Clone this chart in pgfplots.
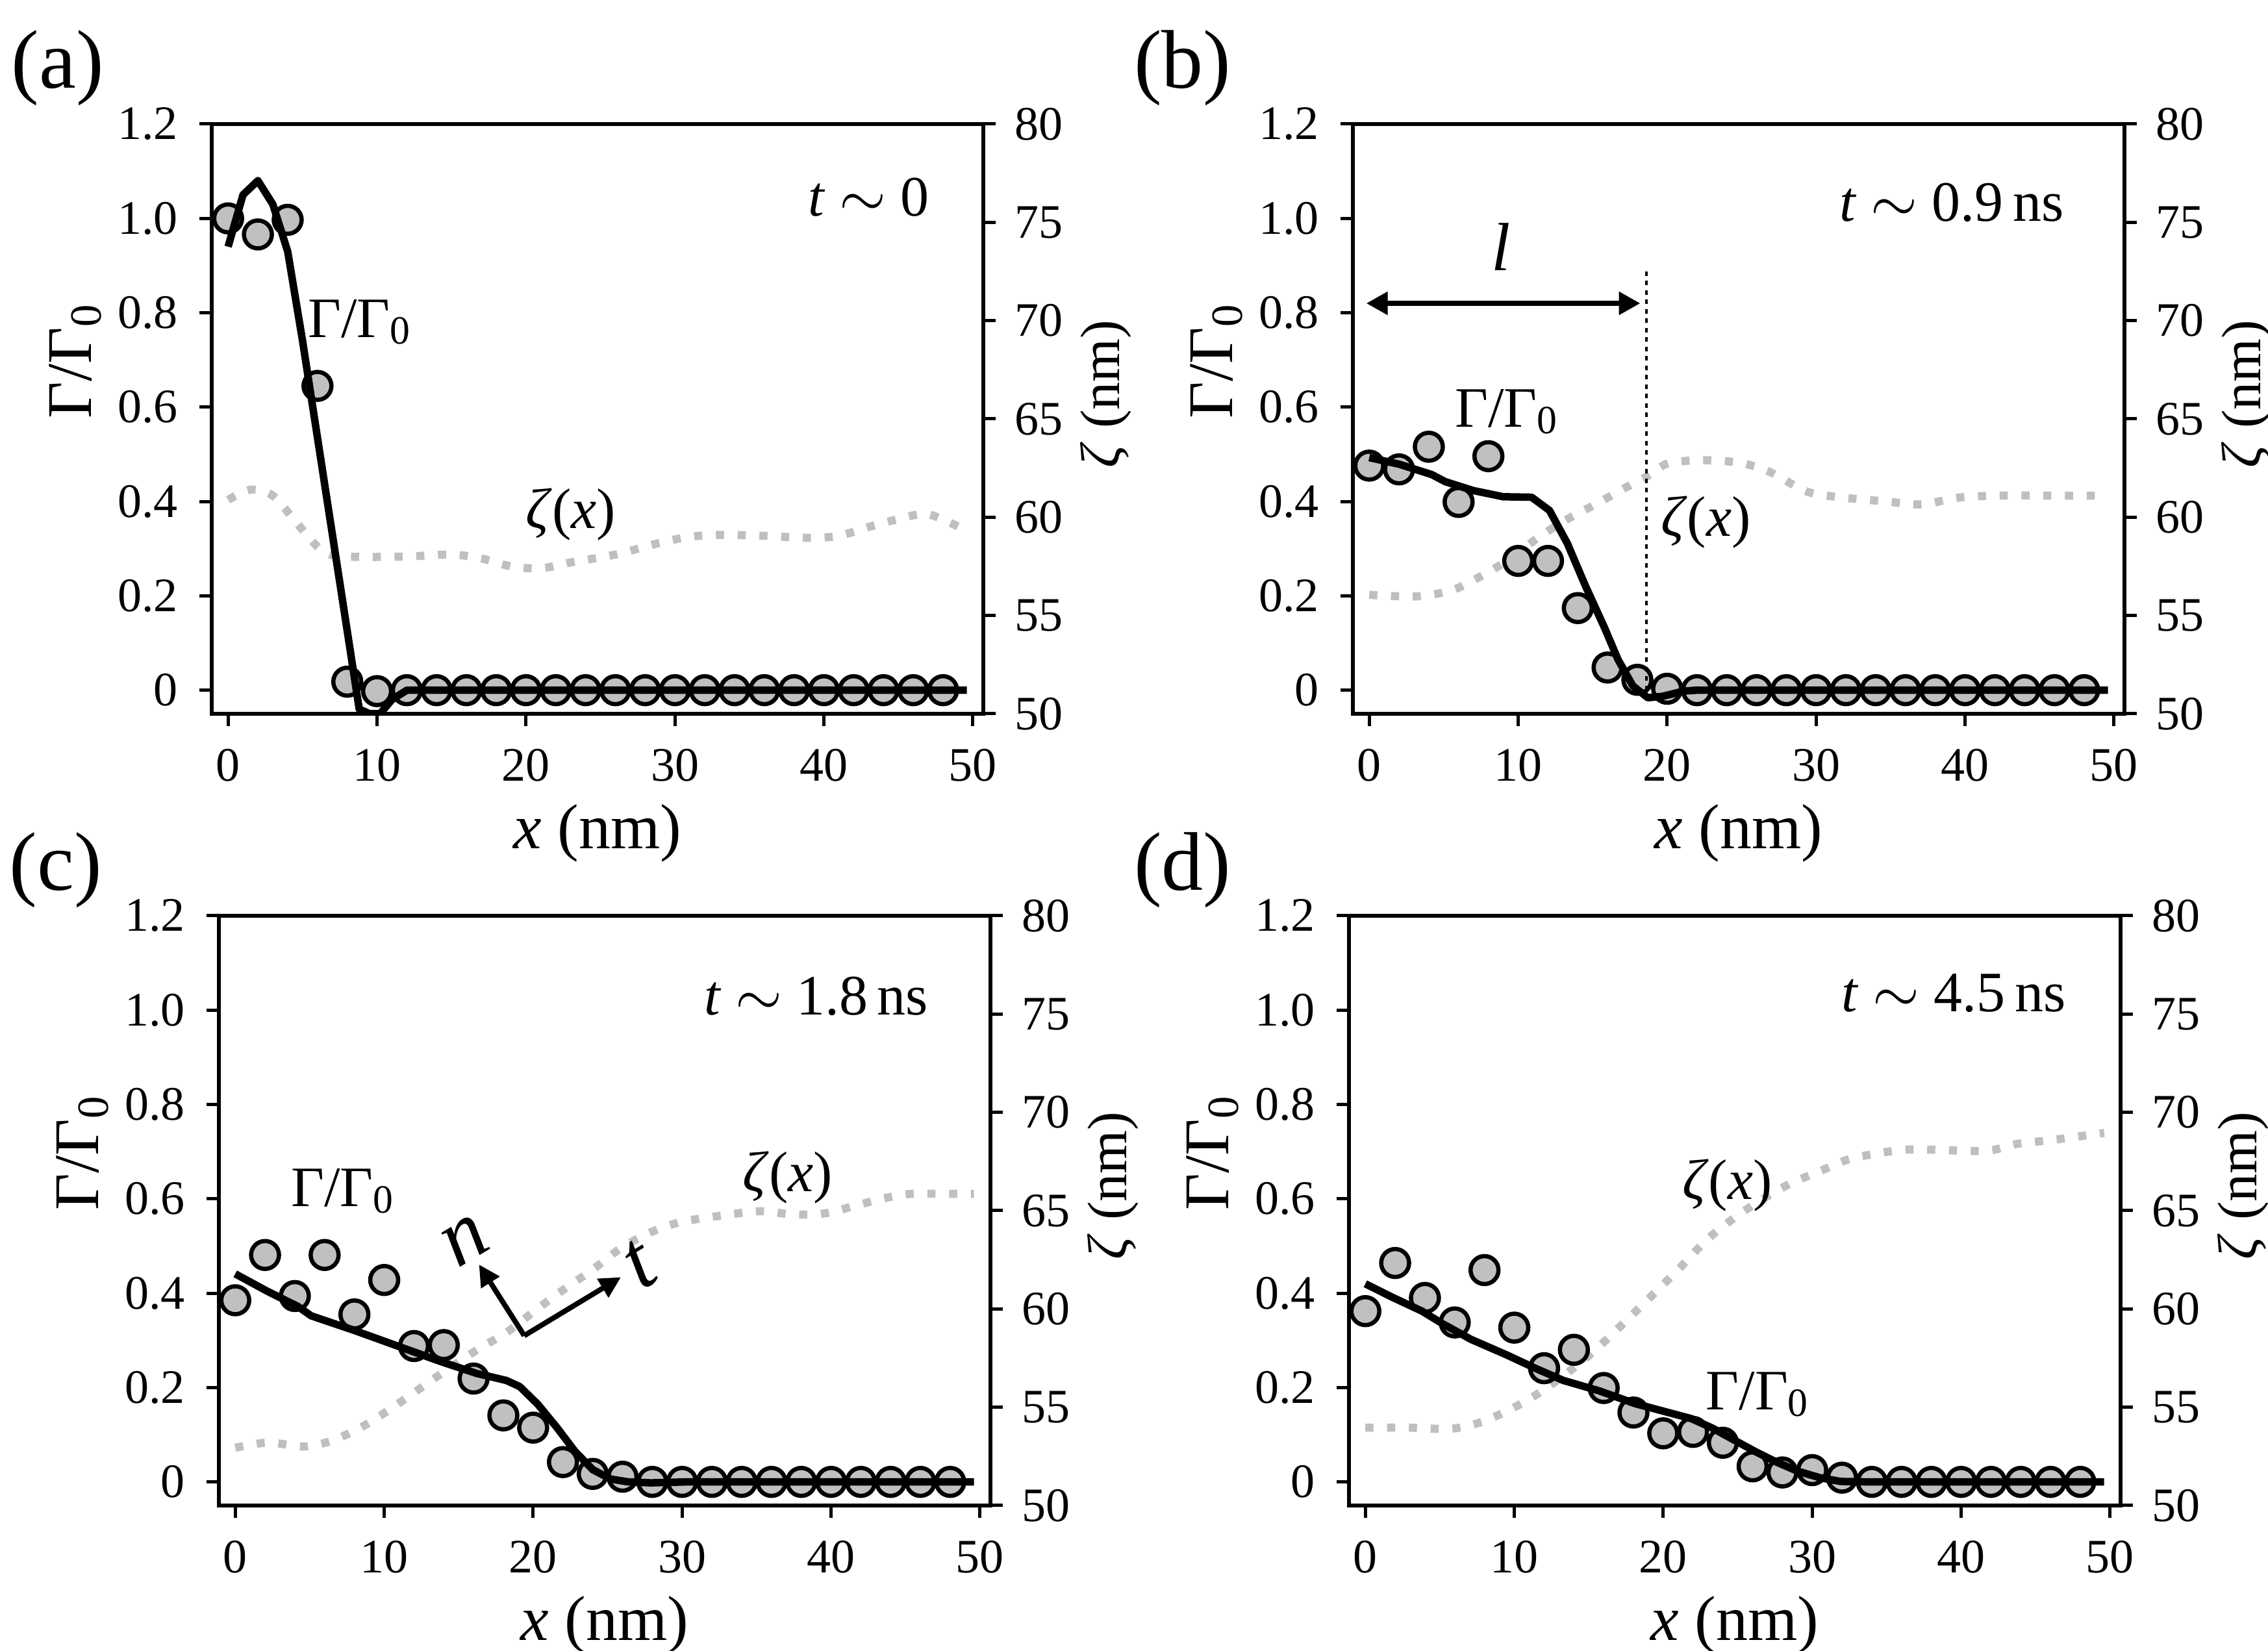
\documentclass[border=0pt]{standalone}
\usepackage{fontspec}
\setmainfont{Liberation Serif}
\usepackage{pgfplots}
\pgfplotsset{compat=1.18}
\usetikzlibrary{arrows.meta,calc}

\definecolor{mkgray}{HTML}{C0C0C0}
\definecolor{zgray}{HTML}{BFBFBF}

\newcommand{\tfont}{\fontsize{7.4}{8}\selectfont}
\newcommand{\lfont}{\fontsize{9.8}{11}\selectfont}
\newcommand{\rfont}{\fontsize{8.6}{10}\selectfont}
\newcommand{\afont}{\fontsize{8.8}{10}\selectfont}
\newcommand{\pfont}{\fontsize{12.8}{14}\selectfont}
\newcommand{\GG}{Γ/Γ\textsubscript{0}}
\newcommand{\zx}{\textit{ζ}(\textit{x})}

\pgfplotsset{
  panel/.style={scale only axis, width=118.8pt, height=90.8pt, xmin=-1.1, xmax=50.7,
    axis line style={line width=0.6pt}, every tick/.style={black, line width=0.5pt},
    major tick length=1.9pt, tick align=outside,
    tick label style={font=\tfont, inner sep=0pt},
    /pgf/number format/assume math mode=true, clip mode=individual},
  gamax/.style={panel, ymin=-0.05, ymax=1.2, xtick={0,10,...,50},
    ytick={0,0.2,0.4,0.6,0.8,1.0,1.2}, yticklabels={0,0.2,0.4,0.6,0.8,1.0,1.2},
    xtick pos=left, ytick pos=left,
    xticklabel style={anchor=north, yshift=-3.3pt},
    yticklabel style={anchor=east, xshift=-3.1pt}},
  zetaax/.style={panel, ymin=50, ymax=80, ytick={50,55,...,80},
    axis x line=none, axis y line*=right,
    yticklabel style={anchor=west, xshift=2.8pt}},
  mk/.style={only marks, mark=*, mark size=2.15pt,
    mark options={fill=mkgray, draw=black, line width=0.65pt}},
  gline/.style={black, line width=1.15pt, line join=round, no marks},
  zline/.style={zgray, line width=1.25pt, dash pattern=on 1.25pt off 2.1pt, no marks, smooth},
}

\newcommand{\axlabels}[1]{%
  \node[rotate=90, font=\lfont] at ($(#1.south west)!0.60!(#1.north west)+(-21pt,0)$) {\GG};
  \node[rotate=90, font=\rfont] at ($(#1.south east)!0.542!(#1.north east)+(18.9pt,0)$) {\textit{ζ} (nm)};
  \node[font=\lfont] at ($(#1.south)+(0,-18.4pt)$) {\textit{x} (nm)};
}

\begin{document}
\begin{tikzpicture}

% ---------------- (a) ----------------
\begin{axis}[zetaax, at={(32.6pt,144.3pt)}, anchor=south west]
\addplot[zline] coordinates {(0,60.88)(1.5,61.4)(3,61.1)(4.5,59.8)(6,58.5)(7,58.06)(9,57.98)(12,58.0)(15,58.1)(17,57.9)(19,57.5)(21,57.4)(23,57.7)(26,58.1)(29,58.7)(31,59.0)(33,59.1)(36,59.05)(39,58.95)(41,59.05)(43,59.5)(45,59.9)(47,60.15)(49.6,59.3)};
\end{axis}
\begin{axis}[gamax, name=ga, at={(32.6pt,144.3pt)}, anchor=south west]
\addplot[mk] coordinates {(0,1.0)(2,0.966)(4,0.997)(6,0.645)(8,0.018)(10,-0.002)(12,0)(14,0)(16,0)(18,0)(20,0)(22,0)(24,0)(26,0)(28,0)(30,0)(32,0)(34,0)(36,0)(38,0)(40,0)(42,0)(44,0)(46,0)(48,0)};
\addplot[gline] coordinates {(0,0.94)(1,1.05)(2,1.08)(3,1.03)(4,0.93)(5,0.74)(6,0.535)(7,0.33)(8,0.125)(8.8,-0.04)(9.5,-0.05)(10.2,-0.05)(11,-0.02)(12,0)(49.6,0)};
\node[font=\afont] at (axis cs:43,1.045) {\textit{t} $\sim$ 0};
\node[font=\afont] at (axis cs:8.9,0.78) {\GG};
\node[font=\afont] at (axis cs:23,0.373) {\zx};
\end{axis}
\axlabels{ga}

% ---------------- (b) ----------------
\begin{axis}[zetaax, at={(208.3pt,144.3pt)}, anchor=south west]
\addplot[zline] coordinates {(0,56.05)(3.2,55.97)(5.6,56.3)(7.5,57.0)(9.5,57.9)(11.4,59.0)(13.3,59.9)(15.3,60.7)(17.2,61.5)(18.7,62.1)(20.1,62.75)(22.6,62.9)(25,62.75)(26.9,62.3)(29.4,61.3)(31.8,61.0)(34.7,60.8)(37.1,60.65)(39.6,61.0)(42.5,61.1)(45.4,61.1)(49.6,61.1)};
\end{axis}
\begin{axis}[gamax, name=gb, at={(208.3pt,144.3pt)}, anchor=south west]
\addplot[mk] coordinates {(0,0.476)(2,0.468)(4,0.516)(6,0.399)(8,0.496)(10,0.274)(12,0.274)(14,0.174)(16,0.048)(18,0.022)(20,0.003)(22,0)(24,0)(26,0)(28,0)(30,0)(32,0)(34,0)(36,0)(38,0)(40,0)(42,0)(44,0)(46,0)(48,0)};
\addplot[gline] coordinates {(0,0.493)(2,0.479)(4.2,0.457)(5.1,0.442)(7,0.423)(9,0.41)(10.9,0.409)(12.1,0.381)(13.3,0.311)(14.5,0.222)(15.8,0.132)(16.7,0.065)(17.7,0.009)(18.7,-0.016)(19.7,-0.013)(21.1,-0.002)(22,0)(49.6,0)};
\draw[black, line width=0.45pt, dash pattern=on 0.7pt off 0.75pt] (axis cs:18.6,0) -- (axis cs:18.6,0.895);
\draw[black, line width=0.85pt, {Triangle[length=3.3pt,width=3.4pt]}-{Triangle[length=3.3pt,width=3.4pt]}] (axis cs:-0.2,0.82) -- (axis cs:18.2,0.82);
\node[font=\fontsize{10.5}{12}\selectfont] at (axis cs:8.85,0.94) {\textit{l}};
\node[font=\afont] at (axis cs:39.1,1.034) {\textit{t} $\sim$ 0.9\,ns};
\node[font=\afont] at (axis cs:9.3,0.59) {\GG};
\node[font=\afont] at (axis cs:22.6,0.356) {\zx};
\end{axis}
\axlabels{gb}

% ---------------- (c) ----------------
\begin{axis}[zetaax, at={(33.7pt,22.4pt)}, anchor=south west]
\addplot[zline] coordinates {(0,52.94)(2.2,53.2)(4.6,53.0)(6.5,53.3)(8.5,54.0)(10.4,54.9)(12.3,55.9)(14.3,56.95)(16.2,57.9)(18.2,58.8)(20.1,59.9)(22,60.96)(24,62.0)(25.9,63.1)(27.9,63.9)(29.8,64.4)(32.2,64.7)(35.2,64.97)(37.5,64.8)(39.5,64.85)(41.4,65.2)(43.4,65.6)(45.3,65.85)(47.7,65.85)(49.6,65.85)};
\end{axis}
\begin{axis}[gamax, name=gc, at={(33.7pt,22.4pt)}, anchor=south west]
\addplot[mk] coordinates {(0,0.385)(2,0.481)(4,0.394)(6,0.481)(8,0.355)(10,0.428)(12,0.288)(14,0.290)(16,0.219)(18,0.141)(20,0.115)(22,0.042)(24,0.017)(26,0.011)(28,0)(30,0)(32,0)(34,0)(36,0)(38,0)(40,0)(42,0)(44,0)(46,0)(48,0)};
\addplot[gline] coordinates {(0,0.441)(2.1,0.405)(4.2,0.372)(5.1,0.352)(8,0.321)(10.9,0.288)(13.8,0.255)(16.2,0.230)(18.2,0.215)(19.1,0.202)(20.3,0.165)(21.6,0.115)(22.8,0.065)(24,0.026)(25.2,0.006)(26.4,0)(27.9,-0.002)(30.3,0)(49.6,0)};
\draw[black, line width=0.8pt, -{Triangle[length=3.3pt,width=3.2pt]}] (axis cs:19.4,0.31) -- (axis cs:16.36,0.461);
\draw[black, line width=0.8pt, -{Triangle[length=3.3pt,width=3.2pt]}] (axis cs:19.4,0.31) -- (axis cs:25.9,0.434);
\node[font=\fontsize{13}{14}\selectfont, rotate=31] at (axis cs:15.45,0.511) {\textit{n}};
\node[font=\fontsize{13}{14}\selectfont, rotate=31] at (axis cs:27.2,0.461) {\textit{t}};
\node[font=\afont] at (axis cs:39,1.03) {\textit{t} $\sim$ 1.8\,ns};
\node[font=\afont] at (axis cs:7.3,0.617) {\GG};
\node[font=\afont] at (axis cs:37.1,0.645) {\zx};
\end{axis}
\axlabels{gc}

% ---------------- (d) ----------------
\begin{axis}[zetaax, at={(207.7pt,22.4pt)}, anchor=south west]
\addplot[zline] coordinates {(0,53.96)(2.9,53.96)(5.7,53.9)(7.6,54.2)(9.5,54.8)(11.4,55.6)(13.3,56.6)(15.2,57.75)(17.1,59.1)(19,60.5)(21,62.0)(22.9,63.5)(24.8,64.65)(26.7,65.6)(28.6,66.4)(30.5,67.0)(32.4,67.6)(34.3,67.9)(36.2,68.1)(38.1,68.1)(40,68.05)(41.9,68.05)(43.8,68.4)(46.2,68.6)(49.6,68.95)};
\end{axis}
\begin{axis}[gamax, name=gd, at={(207.7pt,22.4pt)}, anchor=south west]
\addplot[mk] coordinates {(0,0.362)(2,0.464)(4,0.390)(6,0.338)(8,0.449)(10,0.327)(12,0.241)(14,0.280)(16,0.199)(18,0.147)(20,0.103)(22,0.106)(24,0.083)(26,0.033)(28,0.020)(30,0.025)(32,0.009)(34,0)(36,0)(38,0)(40,0)(42,0)(44,0)(46,0)(48,0)};
\addplot[gline] coordinates {(0,0.42)(1.9,0.390)(3.8,0.362)(5.2,0.335)(7.1,0.302)(9.5,0.269)(11.4,0.241)(13.3,0.215)(15.7,0.193)(18.1,0.166)(20,0.150)(21.9,0.134)(23.3,0.114)(24.8,0.088)(26.2,0.064)(27.6,0.042)(29,0.023)(30.5,0.009)(31.9,0.001)(33.8,0)(49.6,0)};
\node[font=\afont] at (axis cs:39.5,1.036) {\textit{t} $\sim$ 4.5\,ns};
\node[font=\afont] at (axis cs:24.3,0.628) {\zx};
\node[font=\afont] at (axis cs:26.4,0.186) {\GG};
\end{axis}
\axlabels{gd}

% panel letters
\node[font=\pfont] at (8.9pt,243.7pt) {(a)};
\node[font=\pfont] at (182.1pt,243.7pt) {(b)};
\node[font=\pfont] at (8.6pt,120.2pt) {(c)};
\node[font=\pfont] at (182.1pt,120.2pt) {(d)};

\pgfresetboundingbox
\useasboundingbox (0,0) rectangle (349.2pt,254.2pt);
\end{tikzpicture}
\end{document}
